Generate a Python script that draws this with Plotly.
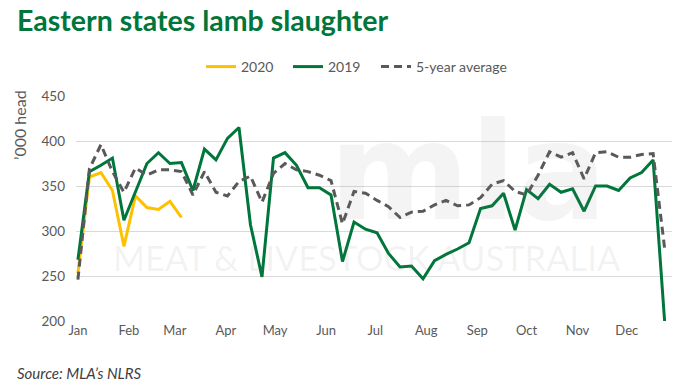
import pandas as pd
import plotly.graph_objects as go

# weekly values ('000 head)
y2020 = [253, 360, 365, 345, 283, 339, 326, 324, 333, 315]
y2019 = [268, 366, 373, 381, 312, 343, 375, 387, 375, 376,
         345, 391, 379, 403, 415, 307, 249, 381, 387, 373,
         348, 348, 340, 266, 310, 302, 298, 275, 260, 261,
         247, 267, 274, 280, 287, 325, 328, 342, 301, 346,
         336, 352, 343, 347, 322, 350, 350, 345, 359, 365,
         379, 200]
avg5 = [246, 369, 396, 366, 343, 370, 362, 368, 368, 366,
        340, 366, 343, 339, 355, 361, 332, 364, 375, 368,
        366, 362, 356, 308, 344, 342, 334, 327, 315, 321,
        322, 329, 334, 328, 329, 337, 352, 356, 344, 340,
        362, 388, 382, 387, 358, 387, 388, 382, 382, 385,
        386, 281]
series_names = ["2020", "2019", "5-year average"]
y_ticks = [200, 250, 300, 350, 400, 450]

weeks19 = pd.date_range("2019-01-01", periods=len(y2019), freq="7D")
weeks20 = weeks19[:len(y2020)]

GREEN = "#00763B"
fig = go.Figure()
fig.add_trace(go.Scatter(x=weeks20, y=y2020, mode="lines", name=series_names[0],
                         line=dict(color="#FFC000", width=3), legend="legend"))
fig.add_trace(go.Scatter(x=weeks19, y=y2019, mode="lines", name=series_names[1],
                         line=dict(color=GREEN, width=3), legend="legend2"))
fig.add_trace(go.Scatter(x=weeks19, y=avg5, mode="lines", name=series_names[2],
                         line=dict(color="#595959", width=3, dash="8px,5px"),
                         legend="legend3"))

font_family = "Lato, 'Open Sans', sans-serif"
PW, PH = 596, 225  # plot area size in px


def leg(px_left):
    return dict(orientation="h", x=(px_left - 6 - 76) / PW, xanchor="left",
                y=1 + (96 - 67) / PH, yanchor="middle",
                font=dict(size=14, color="#595959"), itemwidth=30,
                bgcolor="rgba(0,0,0,0)")


fig.update_layout(
    width=700, height=390,
    margin=dict(l=76, r=28, t=96, b=69),
    paper_bgcolor="white", plot_bgcolor="white",
    font=dict(family=font_family, size=14, color="#595959"),
    showlegend=True,
    legend=leg(207), legend2=leg(294), legend3=leg(382),
    xaxis=dict(type="date",
               range=[pd.Timestamp("2018-12-30 20:00"), pd.Timestamp("2019-12-28 12:00")],
               dtick="M1", tick0="2019-01-01", tickformat="%b",
               showgrid=False, zeroline=False, showline=False, ticks="",
               tickfont=dict(size=13, color="#595959")),
    yaxis=dict(range=[200, 450], tickvals=y_ticks, showgrid=True,
               gridcolor="#D9D9D9", gridwidth=1, zeroline=False, showline=False,
               ticks="", ticklabelstandoff=10,
               tickfont=dict(size=13.5, color="#595959")),
    annotations=[
        dict(text="MEAT &amp; LIVESTOCK AUSTRALIA", xref="paper", yref="paper",
             x=(367 - 76) / PW, y=1 - (257 - 96) / PH, xanchor="center", yanchor="middle",
             showarrow=False, font=dict(size=34.5, color="rgba(120,120,120,0.09)")),
        dict(text="<b>mla</b>", xref="paper", yref="paper",
             x=(468 - 76) / PW, y=1 - (172 - 96) / PH, xanchor="center", yanchor="middle",
             showarrow=False,
             font=dict(size=135, family="DejaVu Sans",
                       color="rgba(120,120,120,0.08)")),
        dict(text="<b>Eastern states lamb slaughter</b>", xref="paper", yref="paper",
             x=(15 - 76) / PW, y=1 + (96 - 20) / PH, xanchor="left", yanchor="middle",
             showarrow=False, font=dict(size=28.5, color=GREEN, family=font_family)),
        dict(text="’000 head", xref="paper", yref="paper", textangle=-90,
             x=(20 - 76) / PW, y=1 - (125 - 96) / PH, xanchor="center", yanchor="middle",
             showarrow=False, font=dict(size=16, color="#595959")),
        dict(text="<i>Source: MLA’s NLRS</i>", xref="paper", yref="paper",
             x=(15 - 76) / PW, y=-(373 - 321) / PH, xanchor="left", yanchor="middle",
             showarrow=False, font=dict(size=15, color="#404040")),
    ],
)

fig.write_html("out.html", config={"displayModeBar": False},
               post_script="document.body.style.margin='0px';document.body.style.padding='0px';")
